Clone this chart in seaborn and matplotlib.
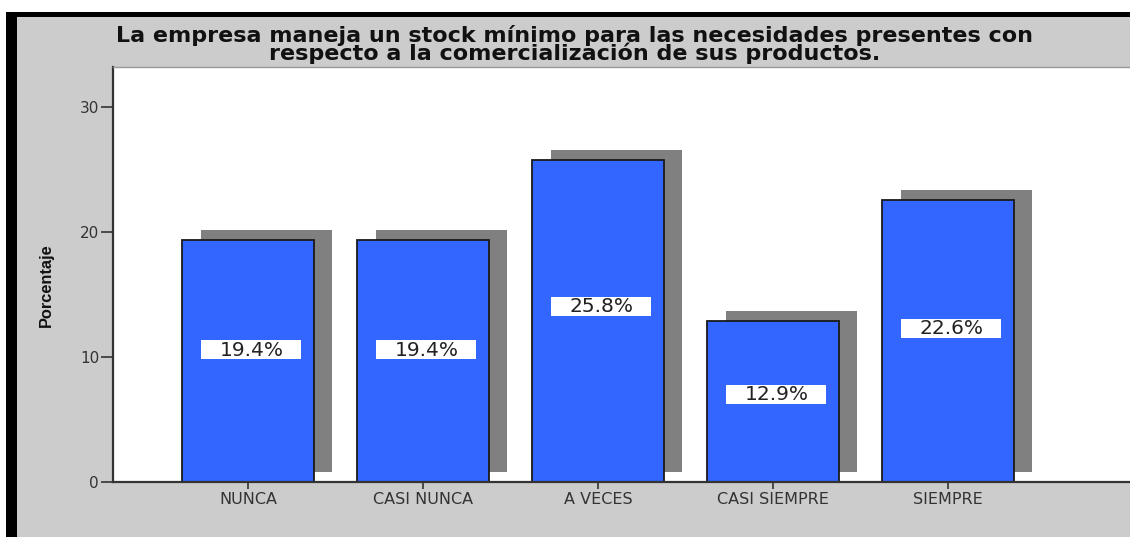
import matplotlib
matplotlib.use("Agg")
import matplotlib.pyplot as plt
import matplotlib.transforms as mtransforms
from matplotlib import font_manager
from matplotlib.patches import Rectangle
import seaborn as sns
import pandas as pd

categories = ["NUNCA", "CASI NUNCA", "A VECES", "CASI SIEMPRE", "SIEMPRE"]
percentages = [19.4, 19.4, 25.8, 12.9, 22.6]
value_labels = ["19.4%", "19.4%", "25.8%", "12.9%", "22.6%"]
y_ticks = [0, 10, 20, 30]

title = ("La empresa maneja un stock mínimo para las necesidades presentes con\n"
         "respecto a la comercialización de sus productos.")
y_title = "Porcentaje"

sns.set_theme(style="white")
plt.rcParams["font.family"] = ["DejaVu Sans"]

installed = {f.name for f in font_manager.fontManager.ttflist}
narrow = "Liberation Sans"
for cand in ["Liberation Sans Narrow", "DejaVu Sans Condensed"]:
    if cand in installed:
        narrow = cand
        break

BAR_BLUE = "#3366ff"
SHADOW = "#808080"
PANEL = "#cccccc"
INK = "#333333"

df = pd.DataFrame({"cat": categories, "pct": percentages})

W, H = 1130, 537
fig = plt.figure(figsize=(W / 100, H / 100), dpi=100)
fig.patch.set_facecolor("white")

# frame: gray panel with a dark edge on the left and top
fig.patches.append(Rectangle((6 / W, 0), (W - 6) / W, (H - 12) / H,
                             transform=fig.transFigure, facecolor="black",
                             edgecolor="none", zorder=-3))
fig.patches.append(Rectangle((17 / W, 0), (W - 17) / W, (H - 17) / H,
                             transform=fig.transFigure, facecolor=PANEL,
                             edgecolor="none", zorder=-2))

ax = fig.add_axes([113 / W, 1 - 482 / H, 1 - 113 / W, (482 - 67) / H])
ax.set_facecolor("white")

# drop shadow bars, shifted right and up
sns.barplot(data=df, x="cat", y="pct", color=SHADOW, saturation=1, width=0.75,
            edgecolor="none", linewidth=0, ax=ax, zorder=1)
shift = mtransforms.ScaledTranslation(0.185, 0.10, fig.dpi_scale_trans)
for p in list(ax.patches):
    p.set_transform(ax.transData + shift)

sns.barplot(data=df, x="cat", y="pct", color=BAR_BLUE, saturation=1, width=0.75,
            edgecolor="#1a1a1a", linewidth=1.3, ax=ax, zorder=2)

ax.set_xlim(-0.771, 5.04)
ax.set_ylim(0, 33.2)

# value labels on white boxes
box_w, box_h = 100 / 175, 19 / 12.5
for i, (v, lab) in enumerate(zip(percentages, value_labels)):
    yc = v * 0.545
    ax.add_patch(Rectangle((i + 0.02 - box_w / 2, yc - box_h / 2), box_w, box_h,
                           facecolor="white", edgecolor="none", zorder=3))
    ax.text(i + 0.02, yc - 0.05, lab, ha="center", va="center", fontsize=14.5,
            color="#222222", zorder=4)

ax.set_yticks(y_ticks)
ax.set_xlabel("")
ax.set_ylabel(y_title, fontsize=11.8, fontweight="bold", family=narrow,
              color="#111111")
ax.yaxis.set_label_coords(-0.058, 0.475)
ax.tick_params(axis="y", length=9, width=1.2, color=INK, labelsize=11,
               labelcolor=INK, pad=1, left=True)
ax.tick_params(axis="x", length=5, width=1.2, color=INK, labelsize=11.5,
               labelcolor=INK, pad=2.5, bottom=True)

for side in ["left", "bottom"]:
    ax.spines[side].set_color(INK)
    ax.spines[side].set_linewidth(1.6)
ax.spines["top"].set_color("#999999")
ax.spines["top"].set_linewidth(1.0)
ax.spines["right"].set_visible(False)

fig.text(575 / W, 1 - 44 / H, title, ha="center", va="center", fontsize=16,
         fontweight="bold", color="#111111", linespacing=0.8)

fig.savefig("out.png", dpi=100, facecolor=fig.get_facecolor())
